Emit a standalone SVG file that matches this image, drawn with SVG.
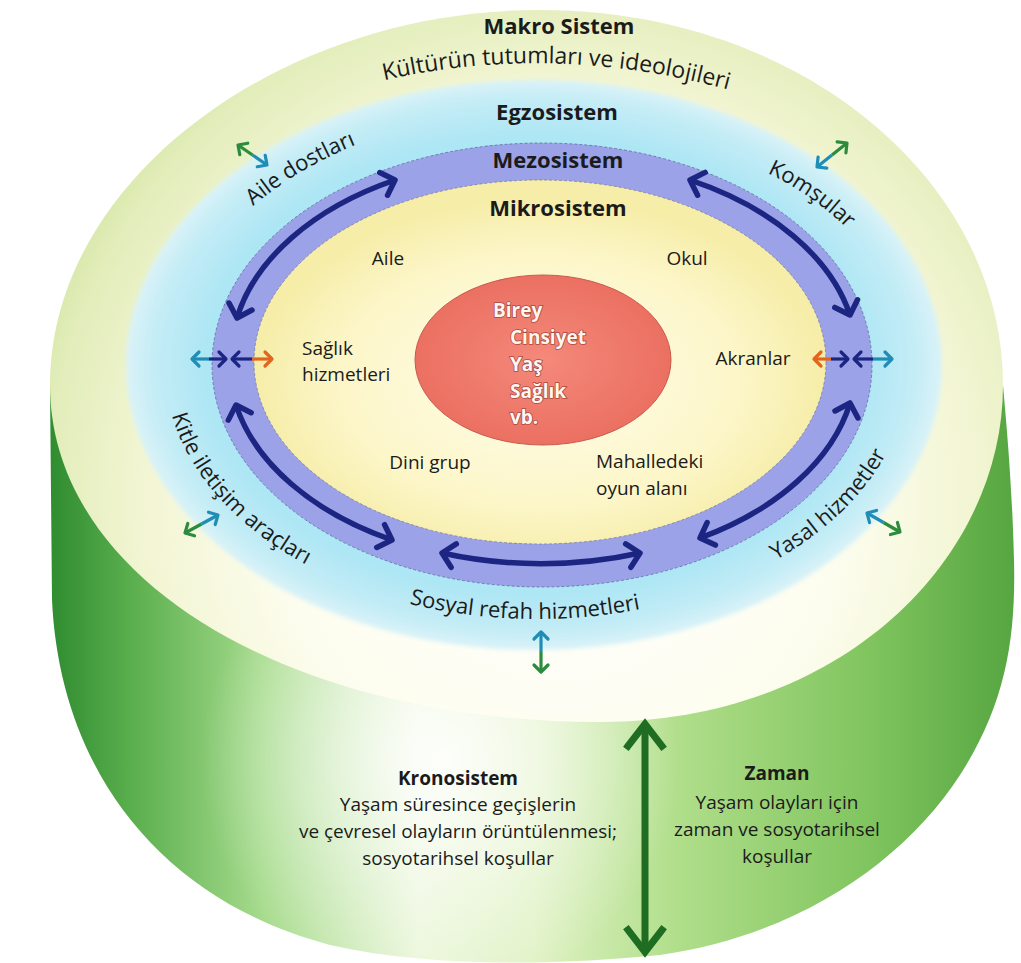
<svg xmlns="http://www.w3.org/2000/svg" width="1021" height="963" viewBox="0 0 1021 963">
<defs>
<style>
.t{font-family:"Open Sans","Noto Sans","Liberation Sans",sans-serif;fill:#1b1b1b}
.b{font-weight:bold}
.lab{font-size:19px}
.ring{font-size:22px}
.hdr{font-size:22px;font-weight:bold;text-anchor:middle}
.core{font-family:"Open Sans","Noto Sans","Liberation Sans",sans-serif;font-weight:bold;font-size:19px;fill:#fff6f2;stroke:#a94a40;stroke-width:1.6;paint-order:stroke}
.navy{fill:none;stroke:#1c2682;stroke-width:5.5;marker-start:url(#navyH);marker-end:url(#navyH)}
.sm{fill:none;stroke-width:3.2}
</style>
<linearGradient id="cylGrad" gradientUnits="userSpaceOnUse" x1="50" y1="0" x2="1018" y2="0">
<stop offset="0" stop-color="#2f8c30"/>
<stop offset="0.08" stop-color="#58ad4c"/>
<stop offset="0.22" stop-color="#a6db8c"/>
<stop offset="0.38" stop-color="#eaf6d8"/>
<stop offset="0.5" stop-color="#e0f2c4"/>
<stop offset="0.65" stop-color="#b0de8a"/>
<stop offset="0.85" stop-color="#7fc45e"/>
<stop offset="1" stop-color="#55a540"/>
</linearGradient>
<radialGradient id="cylHi" gradientUnits="userSpaceOnUse" cx="440" cy="760" r="240">
<stop offset="0" stop-color="#ffffff" stop-opacity="0.9"/>
<stop offset="1" stop-color="#ffffff" stop-opacity="0"/>
</radialGradient>
<radialGradient id="topGrad" gradientUnits="userSpaceOnUse" cx="560" cy="500" r="560">
<stop offset="0" stop-color="#ffffff"/>
<stop offset="0.5" stop-color="#fdfdef"/>
<stop offset="0.75" stop-color="#f2f5d2"/>
<stop offset="0.92" stop-color="#e2edba"/>
<stop offset="1" stop-color="#d1e6a2"/>
</radialGradient>
<radialGradient id="exoGrad" cx="0.5" cy="0.5" r="0.5">
<stop offset="0" stop-color="#a3e2f1"/>
<stop offset="0.8" stop-color="#ade6f4"/>
<stop offset="0.93" stop-color="#c3ecf6"/>
<stop offset="1" stop-color="#daf3f8"/>
</radialGradient>
<radialGradient id="micGrad" cx="0.5" cy="0.55" r="0.5">
<stop offset="0" stop-color="#fffdea"/>
<stop offset="0.7" stop-color="#fcf6c8"/>
<stop offset="1" stop-color="#f6eda8"/>
</radialGradient>
<radialGradient id="redGrad" cx="0.5" cy="0.5" r="0.5">
<stop offset="0" stop-color="#f4897a"/>
<stop offset="1" stop-color="#eb7062"/>
</radialGradient>
<filter id="soft" x="-5%" y="-5%" width="110%" height="110%"><feGaussianBlur stdDeviation="2"/></filter>
<marker id="navyH" markerUnits="userSpaceOnUse" viewBox="-16 -16 20 32" markerWidth="20" markerHeight="32" refX="0" refY="0" orient="auto-start-reverse" overflow="visible">
<path d="M-12,-12 L0,0 L-12,12" fill="none" stroke="#1c2682" stroke-width="5.5" stroke-linecap="round" stroke-linejoin="round"/>
</marker>
<marker id="navyS" markerUnits="userSpaceOnUse" viewBox="-10 -10 12 20" markerWidth="12" markerHeight="20" refX="0" refY="0" orient="auto" overflow="visible">
<path d="M-7,-7 L0,0 L-7,7" fill="none" stroke="#1c2682" stroke-width="3.2" stroke-linecap="round" stroke-linejoin="round"/>
</marker>
<marker id="tealH" markerUnits="userSpaceOnUse" viewBox="-10 -10 12 20" markerWidth="12" markerHeight="20" refX="0" refY="0" orient="auto" overflow="visible">
<path d="M-7,-7 L0,0 L-7,7" fill="none" stroke="#1f8db5" stroke-width="3.2" stroke-linecap="round" stroke-linejoin="round"/>
</marker>
<marker id="greenH" markerUnits="userSpaceOnUse" viewBox="-10 -10 12 20" markerWidth="12" markerHeight="20" refX="0" refY="0" orient="auto" overflow="visible">
<path d="M-7,-7 L0,0 L-7,7" fill="none" stroke="#2a8c3c" stroke-width="3.2" stroke-linecap="round" stroke-linejoin="round"/>
</marker>
<marker id="orangeH" markerUnits="userSpaceOnUse" viewBox="-10 -10 12 20" markerWidth="12" markerHeight="20" refX="0" refY="0" orient="auto" overflow="visible">
<path d="M-7,-7 L0,0 L-7,7" fill="none" stroke="#e2651e" stroke-width="3.2" stroke-linecap="round" stroke-linejoin="round"/>
</marker>
<marker id="bigG" markerUnits="userSpaceOnUse" viewBox="-24 -20 28 40" markerWidth="28" markerHeight="40" refX="0" refY="0" orient="auto-start-reverse" overflow="visible">
<path d="M-22,-17 L0,0 L-22,17" fill="none" stroke="#1f6d23" stroke-width="7" stroke-linecap="square" stroke-linejoin="miter"/>
</marker>
<path id="kultPath" d="M368,84 Q552,38 744,94"/>
<path id="aileArc" d="M236,222 Q290,168 378,136"/>
<path id="komsArc" d="M750,166 Q810,188 860,242"/>
<path id="leftArc" d="M165,367 A372,252 0 0 0 537,619"/>
<path id="botArc" d="M165,367 A372,252 0 0 0 909,367"/>
<path id="rightArc" d="M537,619 A372,252 0 0 0 909,367"/>
</defs>

<g id="kronosistem">
<path d="M50,385 L52,600 C60,770 160,900 330,945 C430,968 560,965 660,955 C800,935 905,860 960,775 C1005,705 1016,640 1014,560 C1012,480 1006,420 1003,385 Z" fill="url(#cylGrad)"/>
<path d="M50,385 L52,600 C60,770 160,900 330,945 C430,968 560,965 660,955 C800,935 905,860 960,775 C1005,705 1016,640 1014,560 C1012,480 1006,420 1003,385 Z" fill="url(#cylHi)"/>
<text class="t b lab" x="458" y="785" text-anchor="middle">Kronosistem</text>
<text class="t lab" x="458" y="811" text-anchor="middle">Yaşam süresince geçişlerin</text>
<text class="t lab" x="458" y="838" text-anchor="middle">ve çevresel olayların örüntülenmesi;</text>
<text class="t lab" x="458" y="865" text-anchor="middle">sosyotarihsel koşullar</text>
</g>

<g id="zaman">
<text class="t b lab" x="777" y="780" text-anchor="middle">Zaman</text>
<text class="t lab" x="777" y="809" text-anchor="middle">Yaşam olayları için</text>
<text class="t lab" x="777" y="836" text-anchor="middle">zaman ve sosyotarihsel</text>
<text class="t lab" x="777" y="863" text-anchor="middle">koşullar</text>
</g>

<g id="makrosistem">
<path d="M540,10 C800,10 1003,180 1003,385 C1003,560 840,722 600,722 C290,722 50,580 50,385 C50,180 280,10 540,10 Z" fill="url(#topGrad)"/>
<text class="t hdr" x="559" y="34">Makro Sistem</text>
<text class="t ring" style="font-size:23px"><textPath href="#kultPath" startOffset="50%" text-anchor="middle">Kültürün tutumları ve ideolojileri</textPath></text>
</g>

<g id="egzosistem">
<ellipse cx="534" cy="365" rx="408" ry="285" fill="url(#exoGrad)" filter="url(#soft)"/>
<text class="t hdr" x="557" y="120">Egzosistem</text>
<text class="t ring"><textPath href="#aileArc" startOffset="50%" text-anchor="middle">Aile dostları</textPath></text>
<text class="t ring"><textPath href="#komsArc" startOffset="50%" text-anchor="middle">Komşular</textPath></text>
<text class="t ring"><textPath href="#leftArc" startOffset="152" text-anchor="middle">Kitle iletişim araçları</textPath></text>
<text class="t ring"><textPath href="#botArc" startOffset="482" text-anchor="middle">Sosyal refah hizmetleri</textPath></text>
<text class="t ring"><textPath href="#rightArc" startOffset="326" text-anchor="middle">Yasal hizmetler</textPath></text>
</g>

<g id="mezosistem">
<ellipse cx="542" cy="365" rx="330" ry="222" fill="#9ca2e8" stroke="#5a5f99" stroke-width="1" stroke-dasharray="3 2" stroke-opacity="0.7"/>
<text class="t hdr" x="558" y="168">Mezosistem</text>
</g>

<g id="mikrosistem">
<ellipse cx="540" cy="362" rx="286" ry="182" fill="url(#micGrad)" stroke="#6a6a90" stroke-width="1" stroke-dasharray="3 2" stroke-opacity="0.6"/>
<text class="t hdr" x="558" y="216">Mikrosistem</text>
<text class="t lab" x="388" y="265" text-anchor="middle">Aile</text>
<text class="t lab" x="687" y="265" text-anchor="middle">Okul</text>
<text class="t lab" x="302" y="355">Sağlık</text>
<text class="t lab" x="302" y="381">hizmetleri</text>
<text class="t lab" x="753" y="365" text-anchor="middle">Akranlar</text>
<text class="t lab" x="430" y="469" text-anchor="middle">Dini grup</text>
<text class="t lab" x="596" y="468">Mahalledeki</text>
<text class="t lab" x="596" y="495">oyun alanı</text>
</g>

<g id="birey">
<ellipse cx="543" cy="360" rx="128" ry="85" fill="url(#redGrad)" stroke="#c95a4c" stroke-width="1"/>
<text class="core" x="493" y="317">Birey</text>
<text class="core" x="510" y="344">Cinsiyet</text>
<text class="core" x="510" y="371">Yaş</text>
<text class="core" x="510" y="398">Sağlık</text>
<text class="core" x="510" y="424">vb.</text>
</g>

<g id="connectors">
<path class="navy" d="M237,318 A307,200 0 0 1 395,180"/>
<path class="navy" d="M690,180 A307,200 0 0 1 850,315"/>
<path class="navy" d="M236,405 A307,200 0 0 0 392,540"/>
<path class="navy" d="M442,553 A307,200 0 0 0 640,553"/>
<path class="navy" d="M700,538 A307,200 0 0 0 850,403"/>

<path class="sm" stroke="#1f8db5" d="M209,359 L192,359" marker-end="url(#tealH)"/>
<path class="sm" stroke="#1c2682" d="M209,359 L226,359" marker-end="url(#navyS)"/>
<path class="sm" stroke="#1c2682" d="M252,359 L232,359" marker-end="url(#navyS)"/>
<path class="sm" stroke="#e2651e" d="M252,359 L272,359" marker-end="url(#orangeH)"/>
<path class="sm" stroke="#e2651e" d="M831,359 L814,359" marker-end="url(#orangeH)"/>
<path class="sm" stroke="#1c2682" d="M831,359 L848,359" marker-end="url(#navyS)"/>
<path class="sm" stroke="#1c2682" d="M873,359 L854,359" marker-end="url(#navyS)"/>
<path class="sm" stroke="#1f8db5" d="M873,359 L892,359" marker-end="url(#tealH)"/>

<path class="sm" stroke="#2a8c3c" d="M252.5,155 L238,145" marker-end="url(#greenH)"/>
<path class="sm" stroke="#1f8db5" d="M252.5,155 L267,165" marker-end="url(#tealH)"/>
<path class="sm" stroke="#1f8db5" d="M832,155 L817,167" marker-end="url(#tealH)"/>
<path class="sm" stroke="#2a8c3c" d="M832,155 L847,143" marker-end="url(#greenH)"/>
<path class="sm" stroke="#2a8c3c" d="M201.5,524 L185,533" marker-end="url(#greenH)"/>
<path class="sm" stroke="#1f8db5" d="M201.5,524 L218,515" marker-end="url(#tealH)"/>
<path class="sm" stroke="#1f8db5" d="M883.5,522.5 L867,513" marker-end="url(#tealH)"/>
<path class="sm" stroke="#2a8c3c" d="M883.5,522.5 L900,532" marker-end="url(#greenH)"/>
<path class="sm" stroke="#1f8db5" d="M541,652 L541,632" marker-end="url(#tealH)"/>
<path class="sm" stroke="#2a8c3c" d="M541,652 L541,672" marker-end="url(#greenH)"/>

<path d="M645,724 L645,952" fill="none" stroke="#1f6d23" stroke-width="7" marker-start="url(#bigG)" marker-end="url(#bigG)"/>
</g>
</svg>
